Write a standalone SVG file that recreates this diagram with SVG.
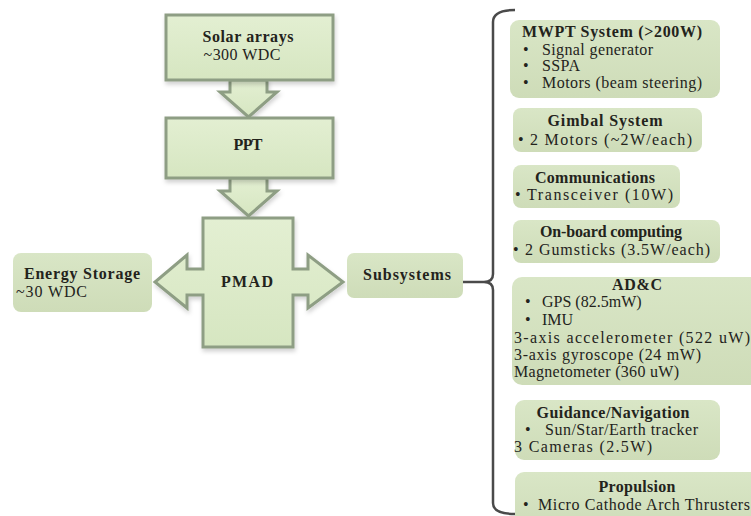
<svg xmlns="http://www.w3.org/2000/svg" width="751" height="516" viewBox="0 0 751 516">
<defs>
<linearGradient id="gBlock" x1="0" y1="0" x2="0" y2="1">
<stop offset="0" stop-color="#e3efd2"/>
<stop offset="1" stop-color="#d6e6c1"/>
</linearGradient>
<linearGradient id="gBox" x1="0" y1="0" x2="0" y2="1">
<stop offset="0" stop-color="#d9e6c6"/>
<stop offset="1" stop-color="#cedcb8"/>
</linearGradient>
<filter id="sh" x="-10%" y="-10%" width="130%" height="130%">
<feDropShadow dx="1" dy="3" stdDeviation="2" flood-color="#000" flood-opacity="0.18"/>
</filter>
</defs>
<style>
.blk{fill:url(#gBlock);stroke:#8e9e84;stroke-width:3;filter:url(#sh)}
.box{fill:url(#gBox);stroke:none}
text{font-family:"Liberation Serif","Times New Roman",serif;font-size:16px;fill:#23231c}
.b{font-weight:bold}
.c{text-anchor:middle}
.con{fill:none;stroke:#4a4a4a;stroke-width:2.5}
</style>
<rect width="751" height="516" fill="#ffffff"/>

<g id="connectors">
<polygon class="blk" points="230,80 267,80 267,92 277,92 248.5,117 220,92 230,92"/>
<polygon class="blk" points="230,178 267,178 267,191 277,191 248.5,216 220,191 230,191"/>
<line class="con" x1="463" y1="282" x2="484" y2="282"/>
<path class="con" d="M515,10 Q493,10 493,22 L493,274 Q493,282 484,282 Q493,282 493,290 L493,503 Q493,514 515,514"/>
</g>

<g id="solar">
<rect class="blk" x="166" y="15" width="167" height="65"/>
<text class="b c" x="248" y="42" textLength="91">Solar arrays</text>
<text class="c" x="242" y="60" textLength="77">~300 WDC</text>
</g>

<g id="ppt">
<rect class="blk" x="166" y="118" width="167" height="60"/>
<text class="b c" x="248" y="150" textLength="29">PPT</text>
</g>

<g id="pmad">
<polygon class="blk" points="203,218 293,218 293,269 308,269 308,255 343,282 308,308 308,295 293,295 293,347 203,347 203,295 187,295 187,308 155,282 187,255 187,269 203,269"/>
<text class="b c" x="247" y="287" textLength="52">PMAD</text>
</g>

<g id="storage">
<rect class="box" x="13" y="253" width="139" height="59" rx="8"/>
<text class="b" x="24" y="279" textLength="116">Energy Storage</text>
<text x="16" y="297" textLength="71">~30 WDC</text>
</g>

<g id="subsystems">
<rect class="box" x="347" y="253" width="116" height="45" rx="7"/>
<text class="b c" x="407" y="280" textLength="88">Subsystems</text>
</g>

<g id="mwpt">
<rect class="box" x="510" y="20" width="210" height="78" rx="9"/>
<text class="b" x="522" y="37" textLength="180">MWPT System (&gt;200W)</text>
<text x="523" y="55">•</text><text x="542" y="55" textLength="111">Signal generator</text>
<text x="523" y="71">•</text><text x="542" y="71" textLength="38">SSPA</text>
<text x="523" y="88">•</text><text x="542" y="88" textLength="160">Motors (beam steering)</text>
</g>

<g id="gimbal">
<rect class="box" x="513" y="108" width="189" height="44" rx="8"/>
<text class="b c" x="605" y="126" textLength="115">Gimbal System</text>
<text x="518" y="145">•</text><text x="530" y="145" textLength="162">2 Motors (~2W/each)</text>
</g>

<g id="comms">
<rect class="box" x="513" y="165" width="167" height="43" rx="8"/>
<text class="b c" x="595" y="183" textLength="120">Communications</text>
<text x="515" y="200">•</text><text x="527" y="200" textLength="146">Transceiver (10W)</text>
</g>

<g id="computing">
<rect class="box" x="513" y="220" width="207" height="43" rx="8"/>
<text class="b c" x="611" y="237" textLength="142">On-board computing</text>
<text x="513" y="255">•</text><text x="525" y="255" textLength="185">2 Gumsticks (3.5W/each)</text>
</g>

<g id="adc">
<rect class="box" x="512" y="277" width="252" height="108" rx="10"/>
<text class="b c" x="637" y="290" textLength="50">AD&amp;C</text>
<text x="525" y="307">•</text><text x="542" y="307">GPS (82.5mW)</text>
<text x="525" y="325">•</text><text x="542" y="325" textLength="31">IMU</text>
<text x="514" y="343" textLength="236">3-axis accelerometer (522 uW)</text>
<text x="514" y="360" textLength="187">3-axis gyroscope (24 mW)</text>
<text x="514" y="377" textLength="165">Magnetometer (360 uW)</text>
</g>

<g id="guidance">
<rect class="box" x="515" y="400" width="205" height="60" rx="9"/>
<text class="b c" x="613" y="418" textLength="153">Guidance/Navigation</text>
<text x="525" y="435">•</text><text x="545" y="435" textLength="153">Sun/Star/Earth tracker</text>
<text x="514" y="452" textLength="138">3 Cameras (2.5W)</text>
</g>

<g id="propulsion">
<rect class="box" x="515" y="472" width="250" height="60" rx="9"/>
<text class="b c" x="637" y="492" textLength="77">Propulsion</text>
<text x="523" y="510">•</text><text x="538" y="510" textLength="212">Micro Cathode Arch Thrusters</text>
</g>
</svg>
